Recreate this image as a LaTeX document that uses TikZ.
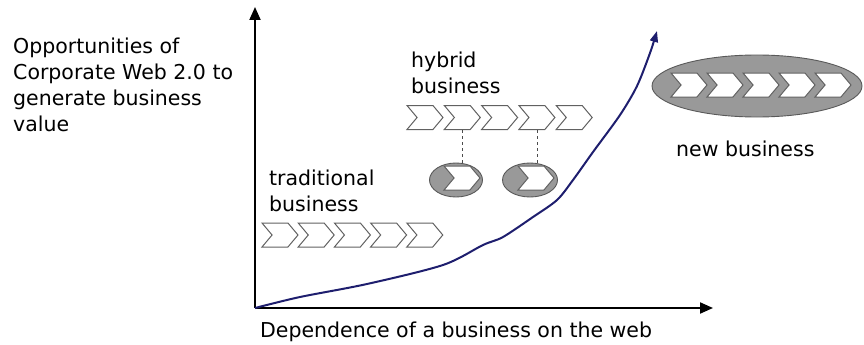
\documentclass[tikz,border=0pt]{standalone}
\usepackage{fontspec}
\setmainfont{DejaVu Sans}
\usetikzlibrary{shapes.geometric, shapes.symbols, arrows.meta, positioning}
\tikzstyle{label} = [inner sep=0pt, align=left, font=\fontsize{20.5}{26}\selectfont]
\tikzstyle{chevron} = [signal, signal to=east, signal from=west, signal pointer angle=100, minimum width=36pt, minimum height=24pt, inner sep=0pt, draw=black!62, fill=white, line width=1pt]
\tikzstyle{phase} = [ellipse, draw=black!65, fill=black!40, line width=0.9pt]
\tikzstyle{axis} = [line width=2pt, -{Triangle[length=13pt,width=11pt]}]
\tikzstyle{growth} = [line width=2pt, draw={rgb,255:red,30;green,30;blue,110}, -{Triangle[length=11pt,width=8pt]}]
\tikzstyle{link} = [dashed, line width=0.8pt, draw=black!70]

\begin{document}
\begin{tikzpicture}[x=1pt, y=-1pt]
\useasboundingbox (0,0) rectangle (864,345);

% Axes
\coordinate (origin) at (255,308);
\coordinate (ytip) at (255,7);
\coordinate (xtip) at (713,308);
\draw [axis] (origin) -- (ytip);
\draw [axis] (origin) -- (xtip);

% Axis labels (base = last line)
\node (ylabel) [label, anchor=base west] at (13,131) {Opportunities of\\Corporate Web 2.0 to\\generate business\\value};
\node (xlabel) [label, anchor=base west] at (260,337) {Dependence of a business on the web};

% Growth curve
\draw [growth] plot[smooth, tension=0.5] coordinates {(origin) (300,297) (367,284) (443,265) (483,245) (503,237) (533,217) (557,200) (573,180) (593,152) (620,115) (637,86) (650,53) (657,31)};

% Traditional business
\node (trad_text) [label, anchor=base west] at (269,211) {traditional\\business};
\foreach \i in {1,...,5}
  \node (trad\i) [chevron] at ({262+18+36.2*(\i-1)},235) {};

% Hybrid business
\node (hyb_text) [label, anchor=base west] at (411,93) {hybrid\\business};
\foreach \i in {1,...,5}
  \node (hyb\i) [chevron] at ({407+18+37.3*(\i-1)},117.5) {};
\node (hyb_ell1) [phase, minimum width=53pt, minimum height=34pt] at (456,180) {};
\node (hyb_ell2) [phase, minimum width=55pt, minimum height=34pt] at (530,180) {};
\node (hyb_web1) [chevron] at (462,178) {};
\node (hyb_web2) [chevron] at (536,178) {};
\draw [link] (hyb2.south) -- (hyb_ell1.north -| hyb2.south);
\draw [link] (hyb4.south) -- (hyb_ell2.north -| hyb4.south);

% New business
\node (new_ell) [phase, minimum width=210pt, minimum height=62pt] at (757,86) {};
\foreach \i in {1,...,5}
  \node (new\i) [chevron] at ({671+18+36*(\i-1)},85) {};
\node (new_text) [label, anchor=base west] at (676,156) {new business};

\end{tikzpicture}
\end{document}
